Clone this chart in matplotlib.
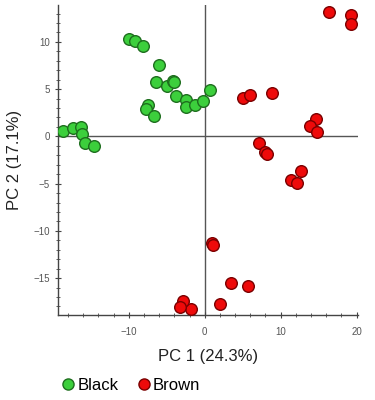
import matplotlib.pyplot as plt
from matplotlib.lines import Line2D
from matplotlib.ticker import MultipleLocator

plt.rcParams["font.family"] = ["Liberation Sans", "DejaVu Sans"]

black_pc1 = [-18.6, -17.3, -16.3, -16.1, -15.8, -14.6, -10.0, -9.2, -8.1, -6.0,
             -6.4, -5.0, -4.2, -4.0, -7.5, -7.7, -6.7, -3.8, -2.5, -2.5,
             -1.3, -0.2, 0.66]
black_pc2 = [0.53, 0.9, 1.0, 0.2, -0.7, -1.0, 10.3, 10.1, 9.6, 7.6,
             5.8, 5.3, 5.9, 5.8, 3.35, 2.9, 2.2, 4.3, 3.9, 3.1,
             3.3, 3.7, 4.9]

brown_pc1 = [16.4, 19.2, 19.2, 5.1, 5.9, 8.9, 14.6, 13.9, 14.8, 7.2,
             7.9, 8.2, 12.7, 11.4, 12.1, 1.0, 1.1, 3.5, 5.7, 2.0,
             -1.75, -2.85, -3.2]
brown_pc2 = [13.2, 12.8, 11.9, 4.1, 4.4, 4.6, 1.8, 1.1, 0.46, -0.7,
             -1.7, -1.9, -3.7, -4.6, -4.9, -11.3, -11.5, -15.5, -15.8, -17.7,
             -18.3, -17.4, -18.1]

green_fill, green_edge = "#3ccf3c", "#1e6e1e"
red_fill, red_edge = "#ee0a0a", "#7a0000"

fig = plt.figure(figsize=(3.75, 4.0), dpi=100)
ax = fig.add_axes([0.155, 0.2125, 0.80, 0.775])

ax.axvline(0, color="#555555", linewidth=1.0, zorder=1)
ax.axhline(0, color="#555555", linewidth=1.0, zorder=1)

ax.scatter(black_pc1, black_pc2, s=70, c=green_fill, edgecolors=green_edge,
           linewidths=1.0, zorder=3)
ax.scatter(brown_pc1, brown_pc2, s=70, c=red_fill, edgecolors=red_edge,
           linewidths=1.0, zorder=3)

ax.set_xlim(-19.3, 20.2)
ax.set_ylim(-18.9, 13.9)
ax.xaxis.set_major_locator(MultipleLocator(10))
ax.xaxis.set_minor_locator(MultipleLocator(2))
ax.yaxis.set_major_locator(MultipleLocator(5))
ax.yaxis.set_minor_locator(MultipleLocator(1))

for side in ("top", "right"):
    ax.spines[side].set_visible(False)
for side in ("left", "bottom"):
    ax.spines[side].set_color("#444444")
    ax.spines[side].set_linewidth(1.0)

ax.tick_params(which="major", direction="inout", length=5, width=0.8,
               color="#444444", labelsize=7, labelcolor="#555555")
ax.tick_params(which="minor", direction="inout", length=3, width=0.6,
               color="#444444")
ax.tick_params(axis="x", pad=6)

ax.set_xlabel("PC 1 (24.3%)", fontsize=12, color="#222222", labelpad=9)
ax.set_ylabel("PC 2 (17.1%)", fontsize=12, color="#222222", labelpad=8)

handles = [
    Line2D([], [], marker="o", linestyle="", markersize=8,
           markerfacecolor=green_fill, markeredgecolor=green_edge, label="Black"),
    Line2D([], [], marker="o", linestyle="", markersize=8,
           markerfacecolor=red_fill, markeredgecolor=red_edge, label="Brown"),
]
fig.legend(handles=handles, loc="lower left", bbox_to_anchor=(0.12, -0.02),
           ncol=2, frameon=False, fontsize=12, handletextpad=0.05,
           columnspacing=1.0, handlelength=1.0)

fig.savefig("out.png", dpi=100)
plt.close(fig)
